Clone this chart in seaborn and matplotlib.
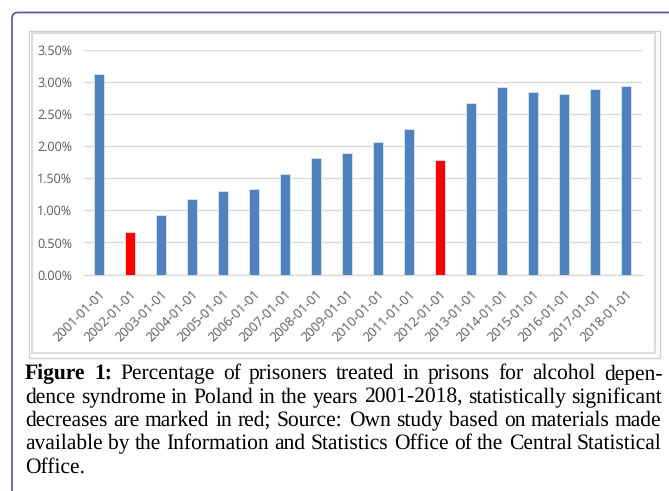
import matplotlib
matplotlib.use("Agg")
import matplotlib.pyplot as plt
import seaborn as sns
import numpy as np
import pandas as pd
from matplotlib.patches import FancyBboxPatch, Rectangle

# Data
dates = ["2001-01-01", "2002-01-01", "2003-01-01", "2004-01-01", "2005-01-01",
         "2006-01-01", "2007-01-01", "2008-01-01", "2009-01-01", "2010-01-01",
         "2011-01-01", "2012-01-01", "2013-01-01", "2014-01-01", "2015-01-01",
         "2016-01-01", "2017-01-01", "2018-01-01"]
pct = [3.13, 0.67, 0.92, 1.17, 1.30, 1.34, 1.57, 1.81, 1.90, 2.06,
       2.27, 1.78, 2.67, 2.92, 2.84, 2.81, 2.89, 2.94]
significant_drop = ["2002-01-01", "2012-01-01"]
y_ticks = [0.0, 0.5, 1.0, 1.5, 2.0, 2.5, 3.0, 3.5]

caption_lines = [
    "Figure 1: Percentage of prisoners treated in prisons for alcohol depen-",
    "dence syndrome in Poland in the years 2001-2018, statistically significant",
    "decreases are marked in red; Source: Own study based on materials made",
    "available by the Information and Statistics Office of the Central Statistical",
    "Office.",
]

BLUE = "#4f81bd"
RED = "#ff0000"
GRID = "#d9d9d9"
TICK_TXT = "#595959"

sns.set_style("white")
plt.rcParams["font.family"] = ["Open Sans", "DejaVu Sans"]
plt.rcParams["text.hinting"] = "no_hinting"

W, H = 669, 491
fig = plt.figure(figsize=(W / 100, H / 100), dpi=100)

def px_box(x0, y0, x1, y1):
    # pixel box (top-left origin) -> figure fractions [left, bottom, width, height]
    return [x0 / W, 1 - y1 / H, (x1 - x0) / W, (y1 - y0) / H]

ax = fig.add_axes(px_box(83.5, 50, 641.5, 274.5))

df = pd.DataFrame({"date": dates, "pct": pct})
palette = {d: (RED if d in significant_drop else BLUE) for d in dates}
sns.barplot(data=df, x="date", y="pct", hue="date", palette=palette,
            legend=False, width=0.33, edgecolor="#dce6f2", linewidth=0.6,
            saturation=1, ax=ax, zorder=3)

ax.set_ylim(0, 3.5)
ax.set_xlim(-0.5, len(dates) - 0.5)
ax.set_yticks(y_ticks)
ax.set_yticklabels([f"{v:.2f}%" for v in y_ticks])
ax.yaxis.grid(True, color=GRID, linewidth=1.0, zorder=0)
ax.set_axisbelow(True)
ax.set_xlabel("")
ax.set_ylabel("")

for s in ["top", "right", "left"]:
    ax.spines[s].set_visible(False)
ax.spines["bottom"].set_color(GRID)
ax.spines["bottom"].set_linewidth(1.0)

ax.set_xticks(range(len(dates)))
ax.set_xticklabels(dates, rotation=45, ha="right", rotation_mode="anchor")
ax.set_xticks(np.arange(-0.5, len(dates), 1.0), minor=True)
ax.tick_params(axis="x", which="major", length=0, pad=9, labelsize=9.3, labelcolor=TICK_TXT)
ax.tick_params(axis="x", which="minor", length=4, color=GRID, width=1.0, direction="out")
ax.tick_params(axis="y", length=0, pad=8, labelsize=9, labelcolor=TICK_TXT)

# frame around the picture
fig.add_artist(Rectangle((29 / W, 1 - 358 / H), (660 - 29) / W, (358 - 31) / H,
                         transform=fig.transFigure, fill=False,
                         edgecolor="#d0d0d0", linewidth=1.0))
fig.add_artist(Rectangle((32 / W, 1 - 353 / H), (655 - 32) / W, (353 - 33) / H,
                         transform=fig.transFigure, fill=False,
                         edgecolor="#dcdcdc", linewidth=1.5))

# purple page border with a rounded corner
fig.add_artist(FancyBboxPatch((0.12, -1.0), 8.0, 4.91 - 0.125 + 1.0,
                              boxstyle="round,pad=0,rounding_size=0.06",
                              transform=fig.dpi_scale_trans, fill=False,
                              edgecolor="#6258a8", linewidth=1.3))

# justified caption
renderer = fig.canvas.get_renderer()
cap_left, cap_right = 25, 662
cap_y0, cap_step = 379, 23.5
cap_kw = dict(family=["Liberation Serif", "DejaVu Serif"], fontsize=15.5, color="black")
for i, line in enumerate(caption_lines):
    words = line.split(" ")
    y = round(H - (cap_y0 + i * cap_step)) / H
    arts = []
    for j, w in enumerate(words):
        bold = (i == 0 and j < 2)
        t = fig.text(0, y, w, ha="left", va="baseline",
                     fontweight="bold" if bold else "normal", **cap_kw)
        arts.append(t)
    widths = [a.get_window_extent(renderer).width for a in arts]
    if i == len(caption_lines) - 1 or len(words) == 1:
        gap = 4
    else:
        gap = (cap_right - cap_left - sum(widths)) / (len(words) - 1)
    x = cap_left
    for a, w in zip(arts, widths):
        a.set_x(round(x) / W)
        x += w + gap

fig.savefig("out.png", dpi=100)
